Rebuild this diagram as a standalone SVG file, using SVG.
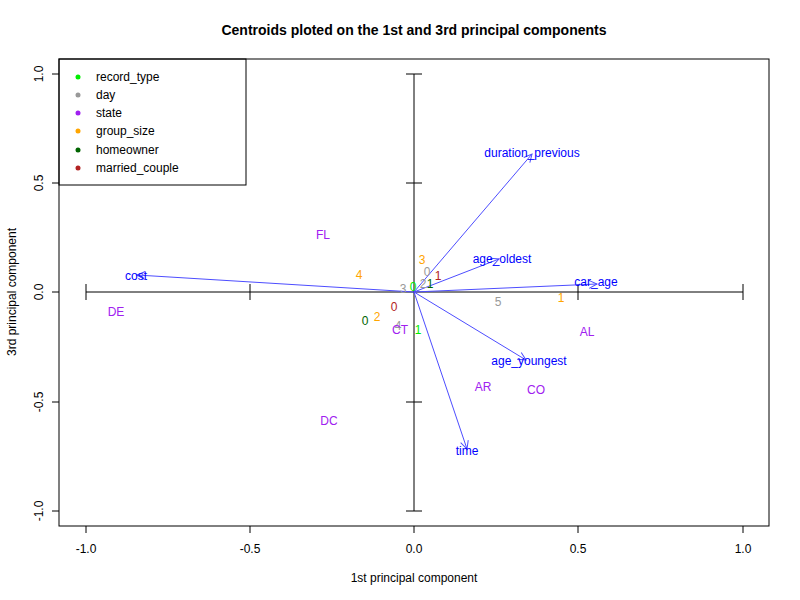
<svg xmlns="http://www.w3.org/2000/svg" width="800" height="600" viewBox="0 0 800 600">
<style>
text{font-family:"Liberation Sans",Arial,sans-serif;font-size:12px;}
.t{font-size:14px;font-weight:bold;text-anchor:middle;}
.c{text-anchor:middle;}
.ax{stroke:#000;stroke-width:1;fill:none;}
.arr{stroke:#4d4dff;stroke-width:1;fill:none;marker-end:url(#ah);}
.v{fill:#0000ff;text-anchor:middle;}
.rt{fill:#00ee00;text-anchor:middle;}
.dy{fill:#999999;text-anchor:middle;}
.st{fill:#a020f0;text-anchor:middle;}
.gs{fill:#ffa500;text-anchor:middle;}
.ho{fill:#006400;text-anchor:middle;}
.mc{fill:#b22222;text-anchor:middle;}
</style>
<defs>
<marker id="ah" markerUnits="userSpaceOnUse" markerWidth="12" markerHeight="12" viewBox="-10 -6 12 12" refX="0" refY="0" orient="auto">
<path d="M-8,-4 L0,0 L-8,4" stroke="#4d4dff" stroke-width="1" fill="none"/>
</marker>
</defs>
<rect width="800" height="600" fill="#fff"/>
<text class="t" x="414" y="35">Centroids ploted on the 1st and 3rd principal components</text>
<g id="frame">
<rect x="59" y="59" width="710" height="467" class="ax"/>
<path class="ax" d="M86,526V533M250,526V533M414,526V533M578,526V533M743,526V533"/>
<path class="ax" d="M52,74H59M52,183H59M52,292H59M52,402H59M52,511H59"/>
<text class="c" x="86" y="553">-1.0</text>
<text class="c" x="250" y="553">-0.5</text>
<text class="c" x="414" y="553">0.0</text>
<text class="c" x="578" y="553">0.5</text>
<text class="c" x="743" y="553">1.0</text>
<text class="c" transform="translate(43,74) rotate(-90)">1.0</text>
<text class="c" transform="translate(43,183) rotate(-90)">0.5</text>
<text class="c" transform="translate(43,292) rotate(-90)">0.0</text>
<text class="c" transform="translate(43,402) rotate(-90)">-0.5</text>
<text class="c" transform="translate(43,511) rotate(-90)">-1.0</text>
<text class="c" x="414" y="582">1st principal component</text>
<text class="c" transform="translate(16,292) rotate(-90)">3rd principal component</text>
</g>
<g id="inner-axes">
<path class="ax" d="M86,292H743M86,284V300M250,284V300M578,284V300M743,284V300"/>
<path class="ax" d="M414,74V511M406,74H422M406,183H422M406,402H422M406,511H422"/>
</g>
<g id="legend">
<rect x="59" y="59" width="187" height="126" class="ax"/>
<circle cx="78" cy="77" r="2.5" fill="#00ee00"/><text x="96" y="81">record_type</text>
<circle cx="78" cy="95" r="2.5" fill="#999999"/><text x="96" y="99">day</text>
<circle cx="78" cy="113" r="2.5" fill="#a020f0"/><text x="96" y="117">state</text>
<circle cx="78" cy="131" r="2.5" fill="#ffa500"/><text x="96" y="135">group_size</text>
<circle cx="78" cy="150" r="2.5" fill="#006400"/><text x="96" y="154">homeowner</text>
<circle cx="78" cy="168" r="2.5" fill="#b22222"/><text x="96" y="172">married_couple</text>
</g>
<g id="connectors">
<line class="arr" x1="414" y1="292" x2="137" y2="275"/>
<line class="arr" x1="414" y1="292" x2="532" y2="154"/>
<line class="arr" x1="414" y1="292" x2="499" y2="259"/>
<line class="arr" x1="414" y1="292" x2="597" y2="284"/>
<line class="arr" x1="414" y1="292" x2="526" y2="360"/>
<line class="arr" x1="414" y1="292" x2="467" y2="449"/>
</g>
<g id="variables">
<text class="v" x="136" y="280">cost</text>
<text class="v" x="532" y="157">duration_previous</text>
<text class="v" x="502" y="263">age_oldest</text>
<text class="v" x="596" y="286">car_age</text>
<text class="v" x="529" y="365">age_youngest</text>
<text class="v" x="467" y="455">time</text>
</g>
<g id="state">
<text class="st" x="323" y="239">FL</text>
<text class="st" x="116" y="316">DE</text>
<text class="st" x="329" y="425">DC</text>
<text class="st" x="587" y="336">AL</text>
<text class="st" x="483" y="391">AR</text>
<text class="st" x="536" y="394">CO</text>
</g>
<g id="day">
<text class="dy" x="403" y="293">3</text>
<text class="dy" x="427" y="276">0</text>
<text class="dy" x="423" y="288">2</text>
<text class="dy" x="498" y="306">5</text>
<text class="dy" x="398" y="330">4</text>
</g>
<g id="state-ct">
<text class="st" x="400" y="334">CT</text>
</g>
<g id="group_size">
<text class="gs" x="359" y="279">4</text>
<text class="gs" x="422" y="264">3</text>
<text class="gs" x="377" y="321">2</text>
<text class="gs" x="561" y="302">1</text>
</g>
<g id="record_type">
<text class="rt" x="413" y="291">0</text>
<text class="rt" x="418" y="334">1</text>
</g>
<g id="homeowner">
<text class="ho" x="365" y="325">0</text>
<text class="ho" x="430" y="288">1</text>
</g>
<g id="married_couple">
<text class="mc" x="394" y="311">0</text>
<text class="mc" x="438" y="280">1</text>
</g>
</svg>
